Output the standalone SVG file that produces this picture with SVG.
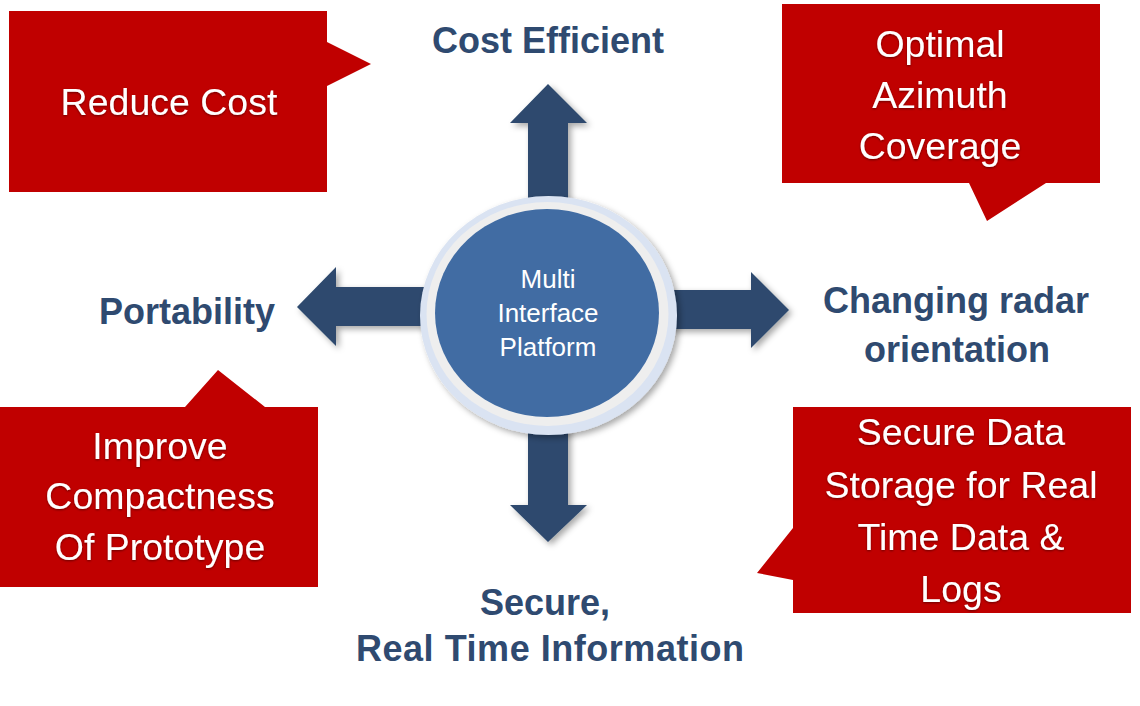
<svg xmlns="http://www.w3.org/2000/svg" width="1140" height="706" viewBox="0 0 1140 706">
  <defs>
    <filter id="shadow" x="-20%" y="-20%" width="140%" height="140%">
      <feDropShadow dx="3" dy="3" stdDeviation="3" flood-color="#000" flood-opacity="0.35"/>
    </filter>
    <filter id="glow" x="-10%" y="-10%" width="120%" height="120%">
      <feDropShadow dx="0" dy="1" stdDeviation="1" flood-color="#000" flood-opacity="0.45"/>
    </filter>
  </defs>
  <style>
    .callout { fill: #c00000; }
    .ctext { font-family: "Liberation Sans", Arial, sans-serif; font-size: 37.5px; fill: #ffffff; text-anchor: middle; }
    .label { font-family: "Liberation Sans", Arial, sans-serif; font-size: 36px; font-weight: bold; fill: #2f4a70; text-anchor: middle; }
    .arrow { fill: #2e4a6e; }
    .hub { font-family: "Liberation Sans", Arial, sans-serif; font-size: 26px; fill: #ffffff; text-anchor: middle; }
  </style>
  <rect width="1140" height="706" fill="#ffffff"/>

  <!-- connectors: block arrows from the hub -->
  <g id="connectors" filter="url(#shadow)">
    <polygon class="arrow" points="528,210 528,123 510,123 548,84 587,123 568,123 568,210"/>
    <polygon class="arrow" points="528,420 528,505 510,505 548,542 587,505 568,505 568,420"/>
    <polygon class="arrow" points="430,287 336,287 336,267 297,307 336,346 336,326 430,326"/>
    <polygon class="arrow" points="665,290 751,290 751,272 789,310 751,348 751,329 665,329"/>
  </g>

  <!-- hub -->
  <g id="hub">
    <ellipse cx="548.5" cy="315.5" rx="128.5" ry="119.5" fill="#dae3f2" filter="url(#shadow)"/>
    <ellipse cx="547.5" cy="314" rx="121" ry="112" fill="#eeeeee"/>
    <ellipse cx="547" cy="313" rx="112" ry="104" fill="#416ca3"/>
    <text class="hub" x="548" y="288">Multi</text>
    <text class="hub" x="548" y="322">Interface</text>
    <text class="hub" x="548" y="356">Platform</text>
  </g>

  <!-- labels -->
  <g id="cost-efficient">
    <text class="label" x="548" y="53">Cost Efficient</text>
  </g>
  <g id="portability">
    <text class="label" x="187" y="324">Portability</text>
  </g>
  <g id="changing-radar">
    <text class="label" x="956" y="313">Changing radar</text>
    <text class="label" x="957" y="362">orientation</text>
  </g>
  <g id="secure-real-time">
    <text class="label" x="545" y="615">Secure,</text>
    <text class="label" x="550" y="661" textLength="388">Real Time Information</text>
  </g>

  <!-- callouts -->
  <g id="reduce-cost">
    <path class="callout" d="M9,11 H327 V42 L371,64 L327,86 V192 H9 Z"/>
    <text class="ctext" x="169" y="115" filter="url(#glow)">Reduce Cost</text>
  </g>
  <g id="optimal-azimuth">
    <path class="callout" d="M782,4 H1100 V183 H1046 L987,221 L969,183 H782 Z"/>
    <g class="ctext" filter="url(#glow)">
      <text x="940" y="57">Optimal</text>
      <text x="940" y="108">Azimuth</text>
      <text x="940" y="159">Coverage</text>
    </g>
  </g>
  <g id="improve-compactness">
    <path class="callout" d="M0,407 H185 L218,370 L265,407 H318 V587 H0 Z"/>
    <g class="ctext" filter="url(#glow)">
      <text x="160" y="459">Improve</text>
      <text x="160" y="509">Compactness</text>
      <text x="160" y="560">Of Prototype</text>
    </g>
  </g>
  <g id="secure-data-storage">
    <path class="callout" d="M793,407 H1131 V613 H793 V580 L757,573 L793,528 Z"/>
    <g class="ctext" filter="url(#glow)">
      <text x="961" y="445">Secure Data</text>
      <text x="961" y="498">Storage for Real</text>
      <text x="961" y="550">Time Data &amp;</text>
      <text x="961" y="602">Logs</text>
    </g>
  </g>
</svg>
